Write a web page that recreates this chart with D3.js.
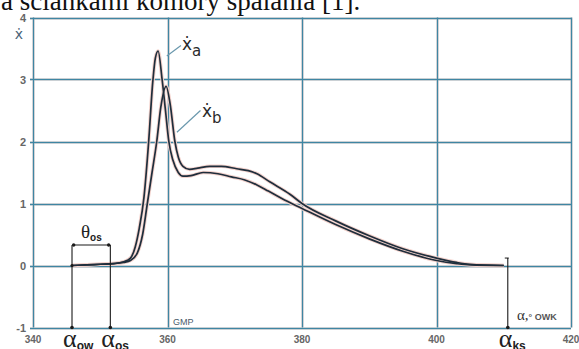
<!DOCTYPE html>
<html><head><meta charset="utf-8">
<script src="https://cdn.jsdelivr.net/npm/d3@7"></script>
<style>body{margin:0;background:#fff;}svg{display:block;}</style>
</head><body>
<script>
// ---- data ----
const xTicks = [340, 360, 380, 400, 420];
const yTicks = [-1, 0, 1, 2, 3, 4];
const angleA = [345.8, 348, 350, 352, 353.5, 354.5, 355.2, 355.8, 356.5, 357.2, 357.8, 358.2, 358.6, 359.2, 359.7, 360.2, 360.8, 361.6, 362.3, 363.5, 365.3, 367.5, 369.5, 371.5, 373.3, 375, 377, 380, 385, 390, 395, 400, 403, 405, 410];
const valueA = [0, 0.01, 0.02, 0.03, 0.06, 0.12, 0.3, 0.6, 1.1, 2.0, 2.95, 3.35, 3.46, 3.0, 2.5, 2.0, 1.7, 1.5, 1.44, 1.45, 1.5, 1.48, 1.43, 1.38, 1.3, 1.2, 1.08, 0.92, 0.66, 0.43, 0.23, 0.08, 0.03, 0.01, 0];
const angleB = [345.8, 348, 350, 352, 353.5, 354.5, 355.5, 356.3, 357, 357.7, 358.4, 359, 359.8, 360.4, 361.1, 361.6, 362.3, 363.3, 364.5, 366.3, 368, 370.3, 372, 373.3, 375.2, 378.2, 380, 385, 390, 395, 400, 403, 405, 410];
const valueB = [0, 0.01, 0.02, 0.03, 0.05, 0.08, 0.2, 0.5, 1.0, 1.5, 2.0, 2.55, 2.89, 2.6, 2.0, 1.75, 1.6, 1.55, 1.57, 1.6, 1.6, 1.56, 1.53, 1.48, 1.35, 1.15, 1.0, 0.72, 0.48, 0.27, 0.12, 0.05, 0.02, 0];
const markerAngles = [345.8, 351.5, 410.6];
const markerTops = [0.33, 0.33, 0.12];
const bracketLevel = 0.33;

const W = 579, H = 349;
const svg = d3.select("body").append("svg").attr("width", W).attr("height", H);
const x = d3.scaleLinear().domain([340, 420]).range([33, 571]);
const y = d3.scaleLinear().domain([-1, 4]).range([327.5, 17.5]);

const gridC = "#3f86a3", halo = "#fae8e4";

// top clipped caption
svg.append("text").attr("x", 1).attr("y", 10)
  .attr("font-family", "Liberation Serif, Times New Roman, serif").attr("font-size", 27)
  .attr("fill", "#111").text("a  ściankami komory spalania [1].");

// grid with halo
const grid = svg.append("g");
[halo, gridC].forEach((c, i) => {
  const sw = i === 0 ? 3 : 1.4;
  grid.selectAll(null).data(yTicks).enter().append("line")
    .attr("x1", x(340) - 3).attr("x2", x(420)).attr("y1", d => Math.round(y(d)) + 0.5).attr("y2", d => Math.round(y(d)) + 0.5)
    .attr("stroke", c).attr("stroke-width", sw);
  grid.selectAll(null).data(xTicks).enter().append("line")
    .attr("x1", d => Math.round(x(d)) + 0.5).attr("x2", d => Math.round(x(d)) + 0.5).attr("y1", y(4)).attr("y2", y(-1))
    .attr("stroke", c).attr("stroke-width", sw);
});

// tick labels
svg.selectAll(null).data(yTicks).enter().append("text")
  .attr("x", 26).attr("y", d => y(d) + 4).attr("text-anchor", "end")
  .attr("font-family", "Liberation Sans, Arial, sans-serif").attr("font-size", 11).attr("font-weight", "bold")
  .attr("fill", "#666").text(d => d);
svg.selectAll(null).data(xTicks).enter().append("text")
  .attr("x", d => x(d)).attr("y", 343).attr("text-anchor", "middle")
  .attr("font-family", "Liberation Sans, Arial, sans-serif").attr("font-size", 10).attr("font-weight", "bold")
  .attr("fill", "#666").text(d => d);

// y axis label
svg.append("text").attr("x", 19).attr("y", 39).attr("text-anchor", "middle")
  .attr("font-family", "DejaVu Sans, sans-serif").attr("font-size", 14)
  .attr("fill", "#4a6478").text("ẋ");

// GMP
svg.append("text").attr("x", 173).attr("y", 325)
  .attr("font-family", "Liberation Sans, Arial, sans-serif").attr("font-size", 9)
  .attr("fill", "#4a5a6a").text("GMP");

// alpha unit label
const unit = svg.append("text").attr("x", 517).attr("y", 320).attr("fill", "#333");
unit.append("tspan").attr("font-family", "Liberation Serif, serif").attr("font-size", 15).text("α,");
unit.append("tspan").attr("font-family", "Liberation Sans, Arial, sans-serif").attr("font-size", 9)
  .attr("font-weight", "bold").attr("fill", "#555").text("° OWK");

// curves
const line = d3.line().x(d => x(d[0])).y(d => y(d[1])).curve(d3.curveMonotoneX);
const dataA = angleA.map((a, i) => [a, valueA[i]]);
const dataB = angleB.map((a, i) => [a, valueB[i]]);
[dataB, dataA].forEach(dd => {
  svg.append("path").attr("d", line(dd)).attr("fill", "none").attr("stroke", "#f3d2cc").attr("stroke-width", 3.6);
});
[dataB, dataA].forEach(dd => {
  svg.append("path").attr("d", line(dd)).attr("fill", "none").attr("stroke", "#1f2e3c").attr("stroke-width", 1.7);
});

// marker lines
const mk = "#1a1a1a";
markerAngles.forEach((a, i) => {
  svg.append("line").attr("x1", x(a)).attr("x2", x(a)).attr("y1", y(-1)).attr("y2", y(markerTops[i]))
    .attr("stroke", mk).attr("stroke-width", 1.1);
  svg.append("circle").attr("cx", x(a)).attr("cy", y(-1)).attr("r", 1.8).attr("fill", mk);
});
svg.append("line").attr("x1", x(markerAngles[2]) - 3).attr("x2", x(markerAngles[2]) + 1)
  .attr("y1", y(markerTops[2])).attr("y2", y(markerTops[2])).attr("stroke", mk).attr("stroke-width", 1);
// bracket theta
svg.append("line").attr("x1", x(markerAngles[0])).attr("x2", x(markerAngles[1]))
  .attr("y1", y(bracketLevel)).attr("y2", y(bracketLevel)).attr("stroke", mk).attr("stroke-width", 1.1);
[markerAngles[0] + 0.25, markerAngles[1] - 0.25].forEach(a => {
  svg.append("circle").attr("cx", x(a)).attr("cy", y(bracketLevel)).attr("r", 1.7).attr("fill", mk);
});
svg.append("circle").attr("cx", x(markerAngles[0])).attr("cy", y(0)).attr("r", 1.6).attr("fill", mk);

const th = svg.append("text").attr("x", 81).attr("y", 238).attr("fill", "#222");
th.append("tspan").attr("font-family", "Liberation Serif, serif").attr("font-size", 19).text("θ");
th.append("tspan").attr("font-family", "Liberation Sans, Arial, sans-serif").attr("font-size", 10)
  .attr("font-weight", "bold").attr("dy", 3).text("os");

// alpha labels
const alphaLbl = [["ow", markerAngles[0]], ["os", markerAngles[1]], ["ks", markerAngles[2]]];
alphaLbl.forEach(([s, a]) => {
  const t = svg.append("text").attr("x", x(a) - 9).attr("y", 347).attr("fill", "#222");
  t.append("tspan").attr("font-family", "Liberation Serif, serif").attr("font-size", 26).text("α");
  t.append("tspan").attr("font-family", "Liberation Sans, Arial, sans-serif").attr("font-size", 12)
    .attr("font-weight", "bold").attr("dy", 3).text(s);
});

// curve labels with leader lines
const leader = "#6a98ad";
svg.append("line").attr("x1", x(359.9)).attr("y1", y(3.38)).attr("x2", x(362.0)).attr("y2", y(3.55))
  .attr("stroke", leader).attr("stroke-width", 1.2);
svg.append("line").attr("x1", x(361.4)).attr("y1", y(2.15)).attr("x2", x(364.9)).attr("y2", y(2.5))
  .attr("stroke", leader).attr("stroke-width", 1.2);
[["a", 182, 50], ["b", 202, 117]].forEach(([s, px, py]) => {
  const t = svg.append("text").attr("x", px).attr("y", py).attr("fill", "#2a2a2a")
    .attr("font-family", "DejaVu Sans, sans-serif");
  t.append("tspan").attr("font-size", 17).text("ẋ");
  t.append("tspan").attr("font-size", 15).attr("dy", 6).text(s);
});
</script>
</body></html>
